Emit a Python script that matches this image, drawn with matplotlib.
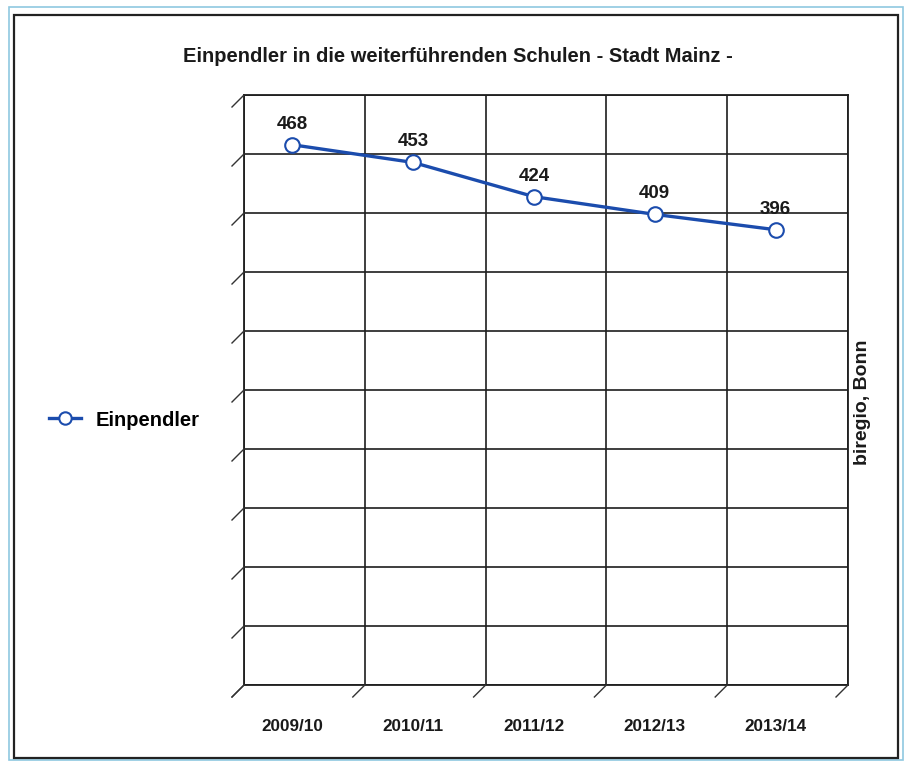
import matplotlib
matplotlib.use("Agg")
import matplotlib.pyplot as plt
from matplotlib.lines import Line2D
from matplotlib.patches import Rectangle
from matplotlib.transforms import ScaledTranslation

categories = ["2009/10", "2010/11", "2011/12", "2012/13", "2013/14"]
values = [468, 453, 424, 409, 396]
series_name = "Einpendler"
title = "Einpendler in die weiterführenden Schulen - Stadt Mainz -"
source = "biregio, Bonn"
y_max = 500
y_step = 50

W, H = 905, 763
plt.rcParams['font.family'] = ['Liberation Sans', 'DejaVu Sans']
fig = plt.figure(figsize=(W / 100, H / 100), dpi=100)

def fx(px):
    return px / W

def fy(py):
    return 1 - py / H

# outer frames
fig.add_artist(Rectangle((fx(9), fy(760)), fx(903 - 9), fy(7) - fy(760), fill=False,
                         edgecolor="#8fc8e0", lw=1.2, transform=fig.transFigure))
fig.add_artist(Rectangle((fx(14), fy(758)), fx(898 - 14), fy(15) - fy(758), fill=False,
                         edgecolor="#222222", lw=1.6, transform=fig.transFigure))

L, R, T, B = 244, 848, 95, 685
ax = fig.add_axes([fx(L), fy(B), fx(R - L), fy(T) - fy(B)])
n = len(categories)
ax.set_xlim(0, n)
ax.set_ylim(0, y_max)
for s in ax.spines.values():
    s.set_color("#1e1e1e")
    s.set_linewidth(1.3)
ax.set_xticks(range(n + 1))
ax.set_yticks(range(0, y_max + 1, y_step))
ax.grid(True, color="#1e1e1e", lw=1.2)
ax.tick_params(length=0, labelleft=False, labelbottom=False)
ax.set_axisbelow(True)

# depth ticks
d = 12
for i in range(0, y_max + 1, y_step):
    yp = B - (B - T) * i / y_max
    fig.add_artist(Line2D([fx(L), fx(L - d)], [fy(yp), fy(yp + d)], color="#333333", lw=1.0,
                          transform=fig.transFigure))
for j in range(n + 1):
    xp = L + (R - L) * j / n
    fig.add_artist(Line2D([fx(xp), fx(xp - d)], [fy(B), fy(B + d)], color="#333333", lw=1.0,
                          transform=fig.transFigure))

off = ScaledTranslation(-d / 100, -d / 100, fig.dpi_scale_trans)
xs = [i + 0.5 for i in range(n)]
ax.plot(xs, values, color="#1b4cad", lw=2.4, marker="o", ms=10.5, mfc="white", mec="#1b4cad",
        mew=1.5, transform=ax.transData + off, clip_on=False, label=series_name, zorder=5)
for x, v in zip(xs, values):
    ax.annotate(str(v), (x, v), xycoords=ax.transData + off, xytext=(0, 11.5),
                textcoords="offset points", ha="center", va="baseline",
                fontsize=13.5, fontweight="bold", color="#1a1a1a", zorder=6)

for x, c in zip(xs, categories):
    ax.annotate(c, (x, 0), xycoords=ax.transData + off, xytext=(0, -21),
                textcoords="offset points", ha="center", va="center",
                fontsize=12.3, fontweight="bold", color="#1a1a1a")

fig.text(fx(458), fy(57), title, ha="center", va="center", fontsize=14.5, fontweight="bold",
         color="#1a1a1a")
fig.text(fx(862), fy(402), source, ha="center", va="center", rotation=90, fontsize=14,
         fontweight="bold", color="#1a1a1a")

h, l = ax.get_legend_handles_labels()
fig.legend(h, l, loc="center left", bbox_to_anchor=(fx(31), fy(420)), frameon=False,
           handlelength=1.6, handletextpad=0.7, markerscale=0.85,
           prop={"size": 14.5, "weight": "bold"})

fig.savefig("out.png", dpi=100)
